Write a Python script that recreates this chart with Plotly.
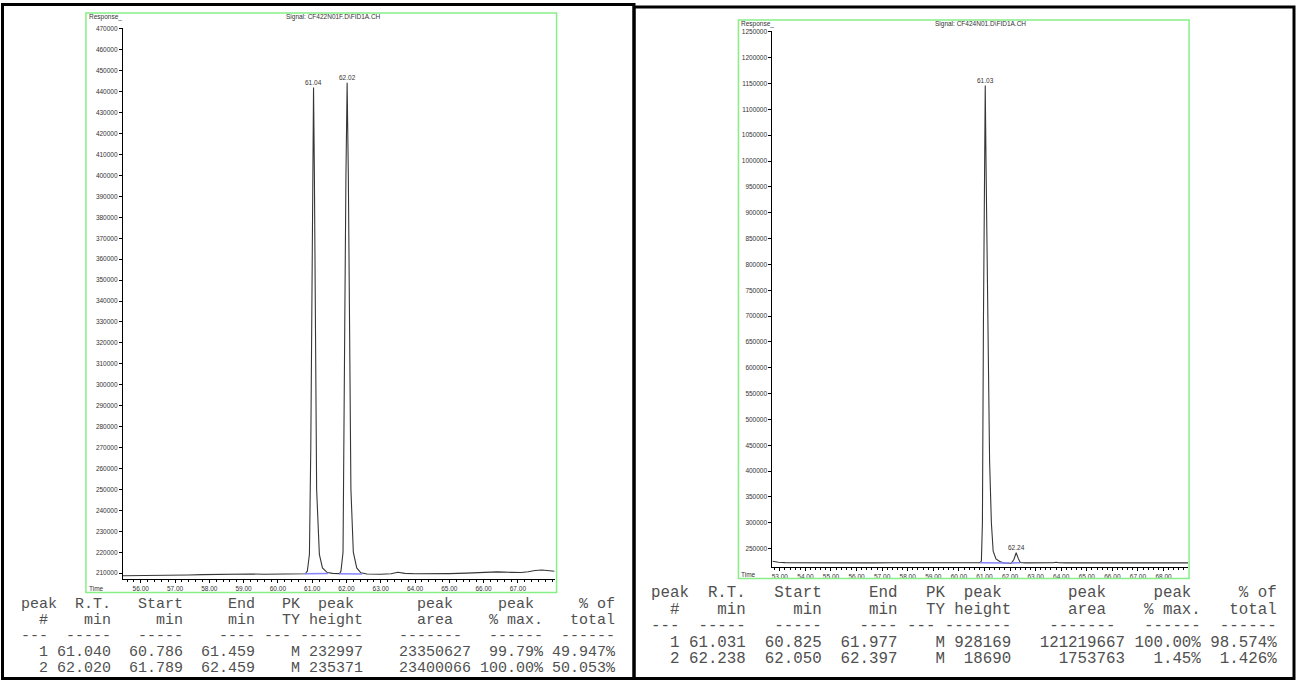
import plotly.graph_objects as go

W, H = 1298, 680

# ---------------- data ----------------
left_time = [55.48, 55.8, 56.2, 56.6, 57.0, 57.4, 57.8, 58.2, 58.5, 58.8, 59.2, 59.6, 60.0, 60.4, 60.8,
             60.86, 60.92, 60.96, 60.98, 61.01, 61.04, 61.065, 61.09, 61.13, 61.21, 61.3, 61.44, 61.6,
             61.8, 61.84, 61.9, 61.93, 61.95, 61.985, 62.02, 62.055, 62.09, 62.13, 62.2, 62.3, 62.42,
             62.6, 63.0, 63.3, 63.5, 63.7, 64.0, 64.5, 65.0, 65.5, 66.0, 66.4, 66.8, 67.1, 67.3, 67.5,
             67.7, 67.9, 68.07]
left_resp = [208800, 208800, 208800, 208900, 209000, 209100, 209300, 209400, 209600, 209800, 209600,
             209500, 209500, 209600, 209700,
             211000, 219000, 270000, 326000, 400000, 442000, 400000, 326000, 250000, 219000, 212500,
             210300, 209900,
             209800, 211000, 220000, 270000, 327000, 400000, 444300, 400000, 327000, 250000, 220000,
             212500, 210200,
             209600, 209500, 209700, 210400, 209900, 209700, 209600, 209800, 210000, 210300, 210600,
             210400, 210300, 210700, 211300, 211500, 211300, 210900]
left_peaks_rt = [61.04, 62.02]
left_peaks_top = [442000, 444300]
left_peak_labels = ["61.04", "62.02"]
left_base_segments = [((60.786, 209700), (61.459, 209800)), ((61.789, 209700), (62.459, 209600))]
left_xticks = [56, 57, 58, 59, 60, 61, 62, 63, 64, 65, 66, 67]
left_yticks = list(range(210000, 470001, 10000))

right_time = [52.71, 52.8, 52.95, 53.2, 53.6, 54.2, 55.0, 55.8, 56.6, 57.4, 58.2, 59.0, 59.8, 60.4,
              60.82, 60.88, 60.92, 60.96, 61.0, 61.03, 61.06, 61.13, 61.2, 61.27, 61.34, 61.45, 61.6,
              61.75, 61.9, 62.05, 62.15, 62.24, 62.32, 62.4, 62.6, 63.0, 63.5, 63.7, 63.8, 63.9, 64.2,
              65.0, 65.8, 66.6, 67.4, 68.2, 68.96]
right_resp = [225500, 224600, 223400, 222800, 222600, 222500, 222400, 222500, 222400, 222500, 222400,
              222400, 222500, 222400,
              222500, 226000, 300000, 690000, 1000000, 1146000, 1000000, 685000, 420000, 300000, 245000,
              230000, 225000,
              222000, 221500, 221700, 229000, 242000, 231000, 223000, 222400, 222300, 222400, 222600,
              223600, 222700, 222400,
              222300, 222300, 222200, 222300, 222300, 222400]
right_peaks_rt = [61.03, 62.24]
right_peaks_top = [1146000, 242000]
right_peak_labels = ["61.03", "62.24"]
right_base_segments = [((60.825, 222400), (61.977, 222300)), ((62.050, 222300), (62.397, 222400))]
right_xticks = list(range(53, 69))
right_yticks = list(range(250000, 1250001, 50000))

left_signal = "Signal: CF422N01F.D\\FID1A.CH"
right_signal = "Signal: CF424N01.D\\FID1A.CH"

# table values
left_rt = [61.040, 62.020]
left_start = [60.786, 61.789]
left_end = [61.459, 62.459]
left_type = ["M", "M"]
left_height = [232997, 235371]
left_area = [23350627, 23400066]
left_pmax = ["99.79%", "100.00%"]
left_ptot = ["49.947%", "50.053%"]

right_rt = [61.031, 62.238]
right_start = [60.825, 62.050]
right_end = [61.977, 62.397]
right_type = ["M", "M"]
right_height = [928169, 18690]
right_area = [121219667, 1753763]
right_pmax = ["100.00%", "1.45%"]
right_ptot = ["98.574%", "1.426%"]


# ---------------- helpers ----------------
def px(x):
    return x / W


def py(y):
    return 1 - y / H


def line(items, width=66):
    s = [" "] * width
    for end, word in items:
        start = end - len(word) + 1
        s[start:end + 1] = list(word)
    return "".join(s)


header1 = line([(3, "peak"), (9, "R.T."), (17, "Start"), (25, "End"), (30, "PK"), (36, "peak"),
                (47, "peak"), (56, "peak"), (65, "% of")])
header2 = line([(2, "#"), (9, "min"), (17, "min"), (25, "min"), (30, "TY"), (37, "height"),
                (47, "area"), (57, "% max."), (65, "total")])
header3 = line([(2, "---"), (9, "-----"), (17, "-----"), (25, "----"), (29, "---"), (37, "-------"),
                (48, "-------"), (57, "------"), (65, "------")])


def rows(rt, st, en, ty, ht, ar, pm, pt):
    out = []
    for i in range(len(rt)):
        out.append(f"{i + 1:3d} {rt[i]:6.3f} {st[i]:7.3f} {en[i]:7.3f} {ty[i]:>4} {ht[i]:6d} "
                   f"{ar[i]:11d} {pm[i]:>7} {pt[i]:>7}")
    return out


left_lines = [header1, header2, header3] + rows(left_rt, left_start, left_end, left_type, left_height,
                                                 left_area, left_pmax, left_ptot)
right_lines = [header1, header2, header3] + rows(right_rt, right_start, right_end, right_type,
                                                  right_height, right_area, right_pmax, right_ptot)

# ---------------- figure ----------------
TRACE = "#363636"
BLUE = "#8484ff"
GREEN = "#86f086"
SANS = "Liberation Sans, Arial, sans-serif"
MONO = "Liberation Mono, Courier New, monospace"
AX_FONT = dict(family=SANS, size=6.5, color="#333333")
TABLE_COLOR = "#505050"

fig = go.Figure()

fig.add_trace(go.Scatter(x=left_time, y=left_resp, mode="lines", line=dict(color=TRACE, width=1.1),
                         xaxis="x", yaxis="y", showlegend=False, hoverinfo="skip"))
for (a, b) in left_base_segments:
    fig.add_trace(go.Scatter(x=[a[0], b[0]], y=[a[1], b[1]], mode="lines",
                             line=dict(color=BLUE, width=1.5), xaxis="x", yaxis="y",
                             showlegend=False, hoverinfo="skip"))

fig.add_trace(go.Scatter(x=right_time, y=right_resp, mode="lines", line=dict(color=TRACE, width=1.1),
                         xaxis="x2", yaxis="y2", showlegend=False, hoverinfo="skip"))
for (a, b) in right_base_segments:
    fig.add_trace(go.Scatter(x=[a[0], b[0]], y=[a[1], b[1]], mode="lines",
                             line=dict(color=BLUE, width=1.5), xaxis="x2", yaxis="y2",
                             showlegend=False, hoverinfo="skip"))


def xaxis_cfg(domain, rng, ticks):
    return dict(domain=domain, range=rng, tickvals=ticks, ticktext=[f"{t:.2f}" for t in ticks],
                ticks="outside", ticklen=3, tickwidth=1, tickcolor="black",
                minor=dict(dtick=0.2, tick0=0, ticks="outside", ticklen=2, tickcolor="black"),
                showline=True, linecolor="black", linewidth=1, showgrid=False, zeroline=False,
                tickfont=AX_FONT, fixedrange=True)


def yaxis_cfg(domain, rng, ticks, anchor):
    return dict(domain=domain, range=rng, tickvals=ticks, ticktext=[str(t) for t in ticks],
                ticks="outside", ticklen=3, tickwidth=1, tickcolor="black",
                showline=True, linecolor="black", linewidth=1, showgrid=False, zeroline=False,
                tickfont=AX_FONT, anchor=anchor, fixedrange=True)


layout = dict(
    width=W, height=H, autosize=False,
    margin=dict(l=0, r=0, t=0, b=0),
    paper_bgcolor="white", plot_bgcolor="white",
    xaxis=dict(xaxis_cfg([px(122), px(554)], [55.48, 68.07], left_xticks), anchor="y"),
    yaxis=yaxis_cfg([py(579), py(25)], [207000, 470500], left_yticks, "x"),
    xaxis2=dict(xaxis_cfg([px(772), px(1188)], [52.71, 68.96], right_xticks), anchor="y2"),
    yaxis2=yaxis_cfg([py(567), py(28)], [213400, 1251900], right_yticks, "x2"),
)
fig.update_layout(**layout)

annotations = []
# peak labels
for rt, top, lab in zip(left_peaks_rt, left_peaks_top, left_peak_labels):
    annotations.append(dict(x=rt, y=top, xref="x", yref="y", text=lab, showarrow=False,
                            yanchor="bottom", xanchor="center", font=AX_FONT, yshift=0))
for rt, top, lab in zip(right_peaks_rt, right_peaks_top, right_peak_labels):
    annotations.append(dict(x=rt, y=top, xref="x2", yref="y2", text=lab, showarrow=False,
                            yanchor="bottom", xanchor="center", font=AX_FONT, yshift=0))

# chart header texts
small = dict(family=SANS, size=6.5, color="#333333")
annotations += [
    dict(x=px(86), y=py(14.5), xref="paper", yref="paper", text="Response_", showarrow=False,
         xanchor="left", yanchor="middle", font=small),
    dict(x=px(333), y=py(14.5), xref="paper", yref="paper", text=left_signal, showarrow=False,
         xanchor="center", yanchor="middle", font=small),
    dict(x=px(86), y=py(588.5), xref="paper", yref="paper", text="Time", showarrow=False,
         xanchor="left", yanchor="middle", font=small),
    dict(x=px(739), y=py(21.5), xref="paper", yref="paper", text="Response_", showarrow=False,
         xanchor="left", yanchor="middle", font=small),
    dict(x=px(980), y=py(21.5), xref="paper", yref="paper", text=right_signal, showarrow=False,
         xanchor="center", yanchor="middle", font=small),
    dict(x=px(739), y=py(574.5), xref="paper", yref="paper", text="Time", showarrow=False,
         xanchor="left", yanchor="middle", font=small),
]

# tables
left_row_y = [604, 620, 636, 652, 668]
right_row_y = [593, 609.5, 626, 642.5, 659]
for txt, yy in zip(left_lines, left_row_y):
    annotations.append(dict(x=px(18), y=py(yy), xref="paper", yref="paper",
                            text=txt.replace(" ", "\u00a0"), showarrow=False, xanchor="left",
                            yanchor="middle", font=dict(family=MONO, size=15, color=TABLE_COLOR)))
for txt, yy in zip(right_lines, right_row_y):
    annotations.append(dict(x=px(648), y=py(yy), xref="paper", yref="paper",
                            text=txt.replace(" ", "\u00a0"), showarrow=False, xanchor="left",
                            yanchor="middle", font=dict(family=MONO, size=15.8, color=TABLE_COLOR)))
fig.update_layout(annotations=annotations)

shapes = [
    # green chart frames
    dict(type="rect", xref="paper", yref="paper", x0=px(85), x1=px(556), y0=py(592), y1=py(10),
         line=dict(color=GREEN, width=1.5), fillcolor="rgba(0,0,0,0)"),
    dict(type="rect", xref="paper", yref="paper", x0=px(738), x1=px(1189), y0=py(578), y1=py(17),
         line=dict(color=GREEN, width=1.5), fillcolor="rgba(0,0,0,0)"),
    # black panel borders
    dict(type="rect", xref="paper", yref="paper", x0=px(1.5), x1=px(633.5), y0=py(678.5), y1=py(1.5),
         line=dict(color="black", width=3), fillcolor="rgba(0,0,0,0)"),
    dict(type="rect", xref="paper", yref="paper", x0=px(633.5), x1=px(1294), y0=py(678.5), y1=py(4),
         line=dict(color="black", width=3), fillcolor="rgba(0,0,0,0)"),
]
fig.update_layout(shapes=shapes)

fig.write_html("out.html", config={"displayModeBar": False, "staticPlot": True},
               post_script="document.body.style.margin='0';document.body.style.overflow='hidden';")
